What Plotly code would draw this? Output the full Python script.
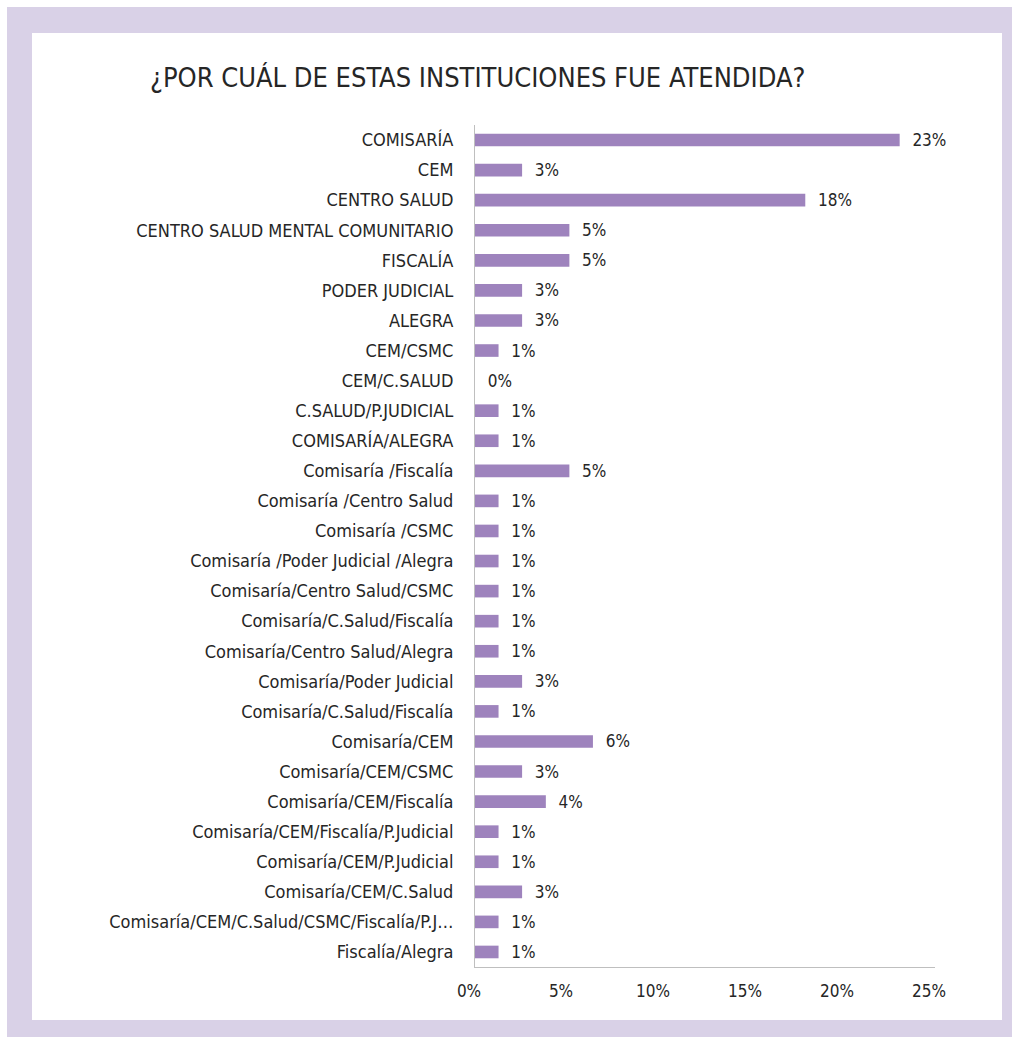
import plotly.graph_objects as go

categories = [
    "COMISARÍA", "CEM", "CENTRO SALUD", "CENTRO SALUD MENTAL COMUNITARIO",
    "FISCALÍA", "PODER JUDICIAL", "ALEGRA", "CEM/CSMC", "CEM/C.SALUD",
    "C.SALUD/P.JUDICIAL", "COMISARÍA/ALEGRA", "Comisaría /Fiscalía",
    "Comisaría /Centro Salud", "Comisaría /CSMC",
    "Comisaría /Poder Judicial /Alegra", "Comisaría/Centro Salud/CSMC",
    "Comisaría/C.Salud/Fiscalía", "Comisaría/Centro Salud/Alegra",
    "Comisaría/Poder Judicial", "Comisaría/C.Salud/Fiscalía",
    "Comisaría/CEM", "Comisaría/CEM/CSMC", "Comisaría/CEM/Fiscalía",
    "Comisaría/CEM/Fiscalía/P.Judicial", "Comisaría/CEM/P.Judicial",
    "Comisaría/CEM/C.Salud", "Comisaría/CEM/C.Salud/CSMC/Fiscalía/P.J…",
    "Fiscalía/Alegra",
]
values = [
    0.2308, 0.0256, 0.1795, 0.0513,
    0.0513, 0.0256, 0.0256, 0.0128, 0.0,
    0.0128, 0.0128, 0.0513,
    0.0128, 0.0128,
    0.0128, 0.0128,
    0.0128, 0.0128,
    0.0256, 0.0128,
    0.0641, 0.0256, 0.0385,
    0.0128, 0.0128,
    0.0256, 0.0128,
    0.0128,
]
x_ticks = [0, 0.05, 0.10, 0.15, 0.20, 0.25]
x_ticklabels = ["0%", "5%", "10%", "15%", "20%", "25%"]
title_text = "¿POR CUÁL DE ESTAS INSTITUCIONES FUE ATENDIDA?"

FONT = "DejaVu Sans Condensed, sans-serif"
TXT = "#262626"
BAR = "#9e83bd"
LAV = "#d9d1e7"

W, H = 1012, 1037
L, R, T, B = 475, 935, 125, 967

def px_x(p):
    return (p - L) / (R - L)

def px_y(p):
    return (B - p) / (B - T)

ypos = list(range(len(categories)))

fig = go.Figure(go.Bar(
    x=values, y=ypos, orientation="h",
    marker=dict(color=BAR, line=dict(width=0)),
    width=0.42,
    texttemplate="\u00a0\u00a0%{x:.0%}", textposition="outside",
    constraintext="none",
    textfont=dict(family=FONT, size=17, color=TXT),
    cliponaxis=False,
))

shapes = [
    dict(type="rect", xref="paper", yref="paper", layer="below",
         x0=px_x(7), x1=px_x(W), y0=px_y(H), y1=px_y(7),
         fillcolor=LAV, line=dict(width=0)),
    dict(type="rect", xref="paper", yref="paper", layer="below",
         x0=px_x(32), x1=px_x(1002), y0=px_y(1020), y1=px_y(33),
         fillcolor="white", line=dict(width=0)),
]

fig.update_layout(
    width=W, height=H,
    margin=dict(l=L, r=W - R, t=T, b=H - B, pad=0),
    paper_bgcolor="white", plot_bgcolor="rgba(0,0,0,0)",
    shapes=shapes,
    showlegend=False,
    title=dict(text=title_text, x=150 / W, xanchor="left",
               y=1 - 78 / H, yanchor="middle",
               font=dict(family=FONT, size=27, color=TXT)),
    font=dict(family=FONT, color=TXT),
    xaxis=dict(range=[0, 0.25], tickvals=x_ticks, ticktext=x_ticklabels,
               showgrid=False, zeroline=False, showline=True,
               linecolor="#bfbfbf", linewidth=1, ticks="",
               tickfont=dict(family=FONT, size=17, color=TXT),
               ticklabelstandoff=9, ticklabelshift=-6),
    yaxis=dict(range=[len(categories) - 0.5, -0.5], tickvals=ypos,
               ticktext=categories, showgrid=False, zeroline=False,
               showline=True, linecolor="#bfbfbf", linewidth=1, ticks="",
               tickfont=dict(family=FONT, size=18, color=TXT),
               ticklabelstandoff=17),
    bargap=0.58,
)

fig.write_html("out.html")
